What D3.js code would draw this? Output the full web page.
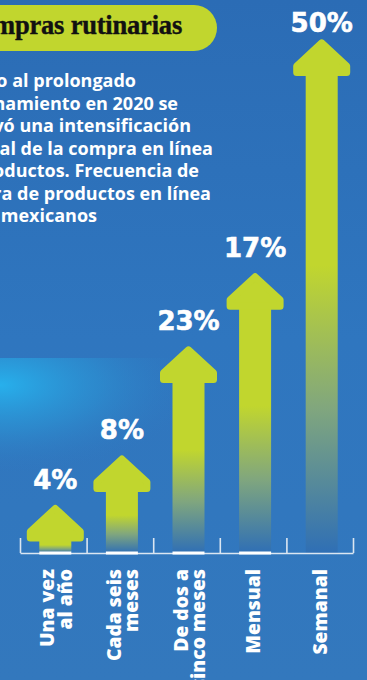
<!DOCTYPE html>
<html>
<head>
<meta charset="utf-8">
<script src="https://cdn.jsdelivr.net/npm/d3@7"></script>
<style>
  html, body { margin: 0; padding: 0; background: #2f74bb; overflow: hidden; }
</style>
</head>
<body>
<div id="chart"></div>
<script>
// ====== DATA ======
const categories = [
    ["Una vez", "al año"],
    ["Cada seis", "meses"],
    ["De dos a", "cinco meses"],
    ["Mensual"],
    ["Semanal"]
];
const values = [4, 8, 23, 17, 50];
// length of each drawn arrow, in % units, as it appears in the picture
const arrowLength = [4.8, 9.6, 20.2, 27.3, 50];

const titleText = "Compras rutinarias";
const introLines = [
    "Debido al prolongado",
    "confinamiento en 2020 se",
    "observó una intensificación",
    "semanal de la compra en línea",
    "de productos. Frecuencia de",
    "compra de productos en línea",
    "de los mexicanos"
];
// where each intro line ends in the picture (its left part runs off the edge)
const introLineEnd = [136, 178, 191, 213, 199, 211, 97];

const width = 367, height = 680;
const LIME = "#c1d62e";

const svg = d3.select("#chart").append("svg")
    .attr("width", width)
    .attr("height", height);

const defs = svg.append("defs");

// fondo
const bg = defs.append("linearGradient").attr("id", "bg")
    .attr("x1", 0).attr("y1", 0).attr("x2", 0).attr("y2", 1);
bg.append("stop").attr("offset", 0).attr("stop-color", "#2b6cb5");
bg.append("stop").attr("offset", 0.5).attr("stop-color", "#2f76bf");
bg.append("stop").attr("offset", 1).attr("stop-color", "#3378bd");

const glow = defs.append("radialGradient").attr("id", "glow")
    .attr("gradientUnits", "userSpaceOnUse")
    .attr("cx", 0).attr("cy", 0).attr("r", 200)
    .attr("gradientTransform", "translate(0,385) scale(1,0.45)");
glow.append("stop").attr("offset", 0).attr("stop-color", "#27b0ec").attr("stop-opacity", 1);
glow.append("stop").attr("offset", 0.5).attr("stop-color", "#2a9ad9").attr("stop-opacity", 0.5);
glow.append("stop").attr("offset", 1).attr("stop-color", "#2f76bf").attr("stop-opacity", 0);

const shaftFade = defs.append("linearGradient").attr("id", "shaftFade")
    .attr("x1", 0).attr("y1", 0).attr("x2", 0).attr("y2", 1);
shaftFade.append("stop").attr("offset", 0).attr("stop-color", LIME);
shaftFade.append("stop").attr("offset", 0.4).attr("stop-color", LIME);
shaftFade.append("stop").attr("offset", 0.7).attr("stop-color", "#80a67e");
shaftFade.append("stop").attr("offset", 1).attr("stop-color", "#2f6fb5");

svg.append("rect").attr("width", width).attr("height", height).attr("fill", "url(#bg)");
svg.append("rect").attr("y", 358).attr("width", width).attr("height", height - 358).attr("fill", "url(#glow)");

// ====== TITULO ======
svg.append("rect")
    .attr("x", -40).attr("y", 5)
    .attr("width", 257).attr("height", 46)
    .attr("rx", 23)
    .attr("fill", LIME);

svg.append("text")
    .attr("x", 182).attr("y", 34)
    .attr("text-anchor", "end")
    .attr("font-family", "'Liberation Serif', serif")
    .attr("font-weight", 700)
    .attr("font-size", 26.5)
    .attr("letter-spacing", -0.2)
    .attr("fill", "#111")
    .attr("stroke", "#111")
    .attr("stroke-width", 0.4)
    .text(titleText);

// ====== TEXTO ======
// cada renglon termina donde termina en la imagen; el inicio queda fuera del borde
svg.append("g")
    .attr("font-family", "'Open Sans', sans-serif")
    .attr("font-weight", 700)
    .attr("font-size", 18)
    .attr("fill", "#fff")
    .selectAll("text")
    .data(introLines)
    .enter()
    .append("text")
    .attr("x", (d, i) => introLineEnd[i])
    .attr("y", (d, i) => 87 + i * 22.5)
    .attr("text-anchor", "end")
    .text(d => d);

// ====== ESCALAS ======
const idx = d3.range(categories.length);
const x = d3.scaleBand().domain(idx).range([20, 353]);
const edge = d3.scaleLinear().domain([0, categories.length]).range([20, 353]);
const y = d3.scaleLinear().domain([0, 50]).range([553, 38]);
const baseY = y(0);
const cx = i => x(i) + x.bandwidth() / 2 + 2;

const shaftW = 32, headW = 57, headH = 38, headDiag = 28;

// ====== FLECHAS ======
const arrows = svg.append("g")
    .selectAll("g")
    .data(idx)
    .enter()
    .append("g");

arrows.append("rect")
    .attr("x", i => cx(i) - shaftW / 2)
    .attr("y", i => y(arrowLength[i]) + headH - 2)
    .attr("width", shaftW)
    .attr("height", i => baseY - (y(arrowLength[i]) + headH - 2))
    .attr("fill", "url(#shaftFade)");

const inset = 3.5;
arrows.append("path")
    .attr("d", i => {
        const c = cx(i), t = y(arrowLength[i]);
        const hw = headW / 2 - inset, sw = shaftW / 2;
        return d3.line()([
            [c, t + inset * 1.4],
            [c + hw, t + headDiag],
            [c + hw, t + headH - inset],
            [c + sw, t + headH - inset],
            [c - sw, t + headH - inset],
            [c - hw, t + headH - inset],
            [c - hw, t + headDiag]
        ]) + "Z";
    })
    .attr("fill", LIME)
    .attr("stroke", LIME)
    .attr("stroke-width", inset * 2)
    .attr("stroke-linejoin", "round");

// ====== EJE ======
const axis = d3.axisBottom(edge)
    .tickValues(d3.range(categories.length + 1))
    .tickSize(-15)
    .tickSizeOuter(0)
    .tickFormat("");

const axisG = svg.append("g")
    .attr("transform", `translate(0,${baseY})`)
    .call(axis);
axisG.selectAll("path, line")
    .attr("stroke", "#dbe6f2")
    .attr("stroke-width", 1.6);

// rayas blancas bajo las flechas
svg.append("g")
    .selectAll("rect")
    .data(idx.slice(0, -1))
    .enter()
    .append("rect")
    .attr("x", i => cx(i) - shaftW / 2)
    .attr("y", baseY - 1.5)
    .attr("width", shaftW)
    .attr("height", 3)
    .attr("fill", "#fff");

// ====== PORCENTAJES ======
svg.append("g")
    .selectAll("text")
    .data(idx)
    .enter()
    .append("text")
    .attr("x", i => cx(i))
    .attr("y", i => Math.max(y(arrowLength[i]) - 15, 32))
    .attr("text-anchor", "middle")
    .attr("font-family", "'DejaVu Sans', sans-serif")
    .attr("font-weight", 700)
    .attr("font-size", 26)
    .attr("fill", "#fff")
    .attr("stroke", "#fff")
    .attr("stroke-width", 0.6)
    .text(i => values[i] + "%");

// ====== CATEGORIAS ======
const catG = svg.append("g")
    .selectAll("text")
    .data(idx)
    .enter()
    .append("text")
    .attr("transform", i => `translate(${cx(i)},569) rotate(-90)`)
    .attr("text-anchor", "end")
    .attr("font-family", "'Open Sans', sans-serif")
    .attr("font-weight", 800)
    .attr("font-size", 19.3)
    .attr("fill", "#fff");

catG.selectAll("tspan")
    .data(i => categories[i].map((t, k) => ({ t, k, n: categories[i].length })))
    .enter()
    .append("tspan")
    .attr("x", 0)
    .attr("y", d => d.n === 1 ? 5 : -1 + d.k * 17.5)
    .text(d => d.t);
</script>
</body>
</html>
